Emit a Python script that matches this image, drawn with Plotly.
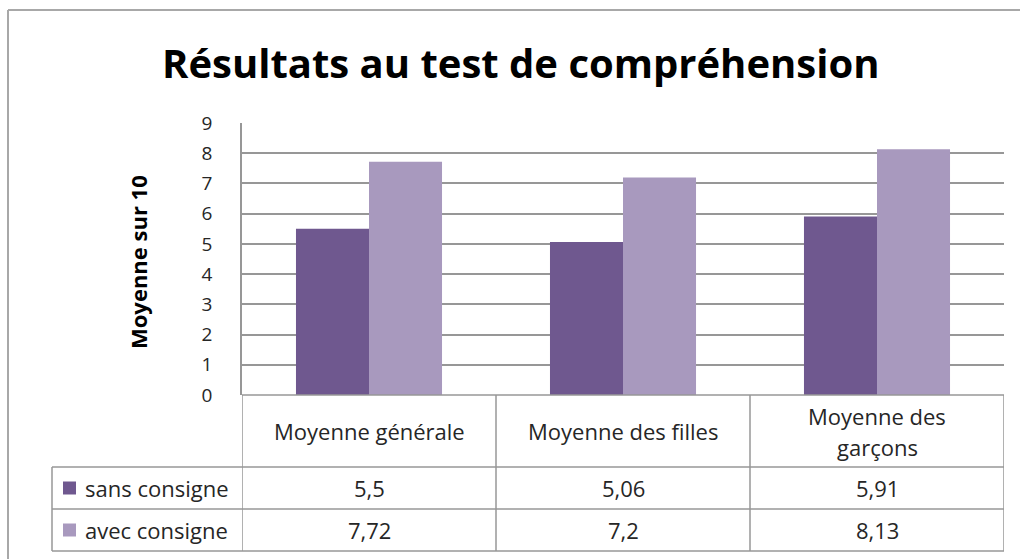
import plotly.graph_objects as go

# Données du graphique
categories = ["Moyenne générale", "Moyenne des filles", "Moyenne des garçons"]
header_lines = [["Moyenne générale"], ["Moyenne des filles"], ["Moyenne des", "garçons"]]
series_names = ["sans consigne", "avec consigne"]
sans_consigne = [5.5, 5.06, 5.91]
avec_consigne = [7.72, 7.2, 8.13]
y_ticks = [0, 1, 2, 3, 4, 5, 6, 7, 8, 9]

colors = ["#6f588f", "#a899be"]
grid_color = "#979797"
font_family = "Open Sans"

W, H = 1020, 559


def px(x):
    return x / W


def py(y):
    return 1 - y / H


# Zone de tracé (pixels)
PLOT_L, PLOT_R, PLOT_T, PLOT_B = 242, 1004, 123, 395
ROW1, ROW2, TABLE_B, TABLE_L = 467, 509, 551, 52

fig = go.Figure()
for name, vals, col in zip(series_names, [sans_consigne, avec_consigne], colors):
    fig.add_trace(go.Bar(x=categories, y=vals, name=name, marker_color=col,
                         marker_line_width=0, showlegend=False))

fig.update_layout(
    width=W, height=H,
    margin=dict(l=0, r=0, t=0, b=0, autoexpand=False),
    paper_bgcolor="white", plot_bgcolor="white",
    barmode="group", bargap=0.425, bargroupgap=0,
    font=dict(family=font_family, color="#262626"),
    xaxis=dict(domain=[px(PLOT_L), px(PLOT_R)], range=[-0.5, 2.5],
               showticklabels=False, showgrid=False, zeroline=False,
               showline=False, fixedrange=True, automargin=False),
    yaxis=dict(domain=[py(PLOT_B), py(PLOT_T)], range=[0, 9],
               tickvals=y_ticks, showgrid=True, gridcolor=grid_color,
               gridwidth=1.5, zeroline=False, showline=True,
               linecolor=grid_color, linewidth=1.5, automargin=False,
               ticks="", ticklabelstandoff=24,
               tickfont=dict(size=19, color="#262626", family=font_family)),
)

shapes = []
line = dict(color=grid_color, width=1.5)

# Cadre extérieur du graphique
shapes.append(dict(type="line", xref="paper", yref="paper",
                   x0=px(8), x1=1.01, y0=py(10), y1=py(10),
                   line=dict(color="#a8a8a8", width=2)))
shapes.append(dict(type="line", xref="paper", yref="paper",
                   x0=px(8), x1=px(8), y0=py(10), y1=-0.01,
                   line=dict(color="#a8a8a8", width=2)))

# Lignes horizontales de la table de données
shapes.append(dict(type="line", xref="x", yref="paper", x0=-0.5, x1=2.5,
                   y0=py(PLOT_B), y1=py(PLOT_B), line=line))
for yy in (ROW1, ROW2, TABLE_B):
    shapes.append(dict(type="line", xref="paper", yref="paper",
                       x0=px(TABLE_L), x1=px(PLOT_R), y0=py(yy), y1=py(yy),
                       line=line))

# Lignes verticales de la table de données
for xv in (-0.5, 0.5, 1.5, 2.5):
    shapes.append(dict(type="line", xref="x", yref="paper", x0=xv, x1=xv,
                       y0=py(PLOT_B), y1=py(TABLE_B), line=line))
shapes.append(dict(type="line", xref="paper", yref="paper",
                   x0=px(TABLE_L), x1=px(TABLE_L), y0=py(ROW1), y1=py(TABLE_B),
                   line=line))

annotations = []
cell_font = dict(family=font_family, size=22, color="#262626")

# En-têtes de colonnes
head_mid = (PLOT_B + ROW1) / 2
for cat, lines in zip(categories, header_lines):
    n = len(lines)
    for i, txt in enumerate(lines):
        yy = head_mid + (i - (n - 1) / 2) * 31
        annotations.append(dict(x=cat, xref="x", y=py(yy), yref="paper",
                                text=txt, showarrow=False, font=cell_font,
                                xanchor="center", yanchor="middle"))

# Lignes de valeurs avec leurs clés de légende
rows = [(ROW1, ROW2), (ROW2, TABLE_B)]
for (top, bot), name, vals, col in zip(rows, series_names,
                                        [sans_consigne, avec_consigne], colors):
    mid = (top + bot) / 2
    shapes.append(dict(type="rect", xref="paper", yref="paper",
                       x0=px(63), x1=px(76), y0=py(mid - 6.5), y1=py(mid + 6.5),
                       fillcolor=col, line=dict(width=0)))
    annotations.append(dict(x=px(83), xref="paper", y=py(mid), yref="paper",
                            text=name, showarrow=False, font=cell_font,
                            xanchor="left", yanchor="middle"))
    for cat, v in zip(categories, vals):
        annotations.append(dict(x=cat, xref="x", y=py(mid), yref="paper",
                                text=f"{v:g}".replace(".", ","),
                                showarrow=False, font=cell_font,
                                xanchor="center", yanchor="middle"))

# Titre du graphique
annotations.append(dict(x=px(520), xref="paper", y=py(62), yref="paper",
                        text="<b>Résultats au test de compréhension</b>",
                        showarrow=False, xanchor="center", yanchor="middle",
                        font=dict(family=font_family, size=40, color="black")))

# Titre de l'axe vertical
annotations.append(dict(x=px(138), xref="paper", y=py(262), yref="paper",
                        text="<b>Moyenne sur 10</b>", textangle=-90,
                        showarrow=False, xanchor="center", yanchor="middle",
                        font=dict(family=font_family, size=22, color="black")))

fig.update_layout(shapes=shapes, annotations=annotations)
fig.write_html("out.html")
